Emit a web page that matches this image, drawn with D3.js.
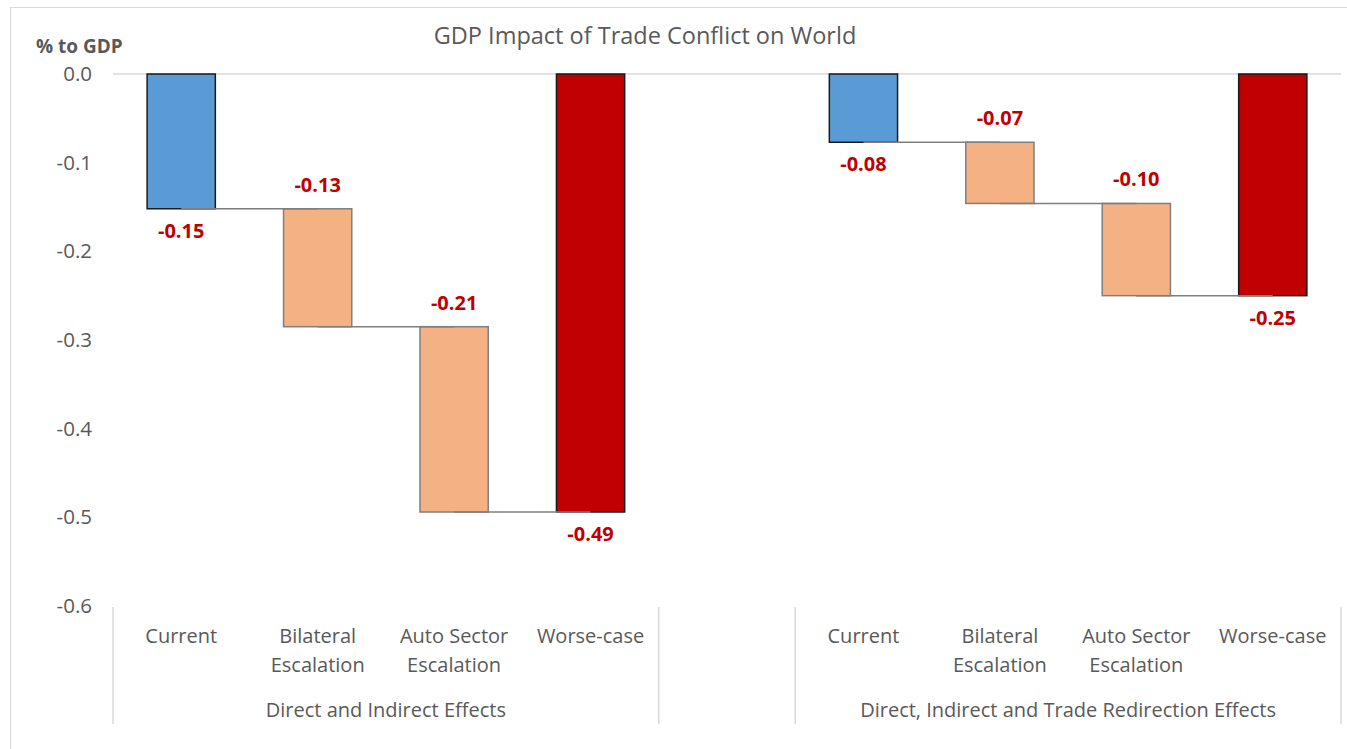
<!DOCTYPE html>
<html>
<head>
<meta charset="utf-8">
<script src="https://cdn.jsdelivr.net/npm/d3@7"></script>
<style>
  html, body { margin: 0; padding: 0; background: #fff; }
  svg { display: block; }
  text { font-family: "Open Sans", "Noto Sans", sans-serif; }
</style>
</head>
<body>
<svg id="chart" width="1347" height="749"></svg>
<script>
// ---- data ----
const title = "GDP Impact of Trade Conflict on World";
const yAxisTitle = "% to GDP";
const groups = ["Direct and Indirect Effects", "Direct, Indirect and Trade Redirection Effects"];
const categories = ["Current", "Bilateral Escalation", "Auto Sector Escalation", "Worse-case"];
const categoryLines = [["Current"], ["Bilateral", "Escalation"], ["Auto Sector", "Escalation"], ["Worse-case"]];
const directEffects = [-0.152, -0.133, -0.209, -0.494];        // last = total
const redirectionEffects = [-0.077, -0.069, -0.104, -0.250];   // last = total
const yTicks = [0, -0.1, -0.2, -0.3, -0.4, -0.5, -0.6];

// ---- build waterfall rows ----
const seriesByGroup = [directEffects, redirectionEffects];
const keys = [];
const bars = [];
seriesByGroup.forEach((vals, g) => {
  let cum = 0;
  vals.forEach((v, i) => {
    const key = g + "|" + i;
    keys.push(key);
    if (i === vals.length - 1) {
      bars.push({key, g, i, y0: 0, y1: v, value: v, type: "total"});
    } else {
      const y0 = cum; cum += v;
      bars.push({key, g, i, y0, y1: cum, value: v, type: i === 0 ? "first" : "step"});
    }
  });
  if (g === 0) keys.push("gap");
});

// ---- scales ----
const svg = d3.select("#chart");
const x = d3.scaleBand().domain(keys).range([113, 1341]).paddingInner(0.5).paddingOuter(0.25);
const y = d3.scaleLinear().domain([-0.6, 0]).range([606, 74]);
const fmt2 = v => d3.format(".2f")(v).replace("\u2212", "-");
const fmt1 = v => d3.format(".1f")(v).replace("\u2212", "-");

// chart border
svg.append("rect").attr("x", 10.5).attr("y", 7.5).attr("width", 1400).attr("height", 800)
  .attr("fill", "none").attr("stroke", "#d9d9d9").attr("stroke-width", 1);

// title
svg.append("text").attr("x", 645).attr("y", 44).attr("text-anchor", "middle")
  .attr("font-size", 23.5).attr("fill", "#595959").text(title);

// y axis title
svg.append("text").attr("x", 36).attr("y", 53).attr("font-size", 19).attr("font-weight", "bold")
  .attr("fill", "#595959").text(yAxisTitle);

// zero line
svg.append("line").attr("x1", 113).attr("x2", 1341).attr("y1", y(0)).attr("y2", y(0))
  .attr("stroke", "#d9d9d9").attr("stroke-width", 1.5);

// y axis
const yAxis = svg.append("g").attr("transform", "translate(113,0)")
  .call(d3.axisLeft(y).tickValues(yTicks).tickFormat(fmt1).tickSize(0).tickPadding(21));
yAxis.select(".domain").remove();
yAxis.selectAll("text").attr("font-size", 20.5).attr("fill", "#595959")
  .style("font-family", "'Open Sans', sans-serif");

// bars
const fillFor = d => d.type === "first" ? "#5b9bd5" : d.type === "total" ? "#c00000" : "#f4b183";
const strokeFor = d => d.type === "step" ? "#7f7f7f" : "#1a1a1a";
svg.append("g").selectAll("rect").data(bars).join("rect")
  .attr("x", d => x(d.key))
  .attr("width", x.bandwidth())
  .attr("y", d => y(Math.max(d.y0, d.y1)))
  .attr("height", d => Math.abs(y(d.y0) - y(d.y1)))
  .attr("fill", fillFor)
  .attr("stroke", strokeFor)
  .attr("stroke-width", 1.5);

// connectors (center to center at running level)
const connectors = [];
bars.forEach((b, idx) => {
  const nb = bars[idx + 1];
  if (nb && nb.g === b.g) connectors.push({x1: x(b.key) + x.bandwidth() / 2, x2: x(nb.key) + x.bandwidth() / 2, level: b.y1});
});
svg.append("g").selectAll("line").data(connectors).join("line")
  .attr("x1", d => d.x1).attr("x2", d => d.x2)
  .attr("y1", d => y(d.level)).attr("y2", d => y(d.level))
  .attr("stroke", "#7f7f7f").attr("stroke-width", 1.5);

// value labels
svg.append("g").selectAll("text").data(bars).join("text")
  .attr("x", d => x(d.key) + x.bandwidth() / 2)
  .attr("y", d => d.type === "step" ? y(d.y0) - 17 : y(d.y1) + 29)
  .attr("text-anchor", "middle")
  .attr("font-size", 20).attr("font-weight", "bold").attr("fill", "#c00000")
  .text(d => fmt2(d.value));

// category labels
const catG = svg.append("g");
bars.forEach(b => {
  const t = catG.append("text").attr("x", x(b.key) + x.bandwidth() / 2).attr("y", 643)
    .attr("text-anchor", "middle").attr("font-size", 20).attr("fill", "#595959");
  categoryLines[b.i].forEach((ln, k) => {
    t.append("tspan").attr("x", x(b.key) + x.bandwidth() / 2).attr("dy", k === 0 ? 0 : 29).text(ln);
  });
});

// group labels and separators
const step = x.step();
const groupSpans = groups.map((gname, g) => {
  const first = x(g + "|0") - (step - x.bandwidth()) / 2;
  const last = x(g + "|" + (categories.length - 1)) + x.bandwidth() + (step - x.bandwidth()) / 2;
  return {gname, first, last};
});
svg.append("g").selectAll("text").data(groupSpans).join("text")
  .attr("x", d => (d.first + d.last) / 2).attr("y", 717).attr("text-anchor", "middle")
  .attr("font-size", 20).attr("fill", "#595959").text(d => d.gname);
const sepXs = groupSpans.flatMap(d => [d.first, d.last]);
svg.append("g").selectAll("line").data(sepXs).join("line")
  .attr("x1", d => d).attr("x2", d => d).attr("y1", 607).attr("y2", 724)
  .attr("stroke", "#d9d9d9").attr("stroke-width", 1.5);
</script>
</body>
</html>
